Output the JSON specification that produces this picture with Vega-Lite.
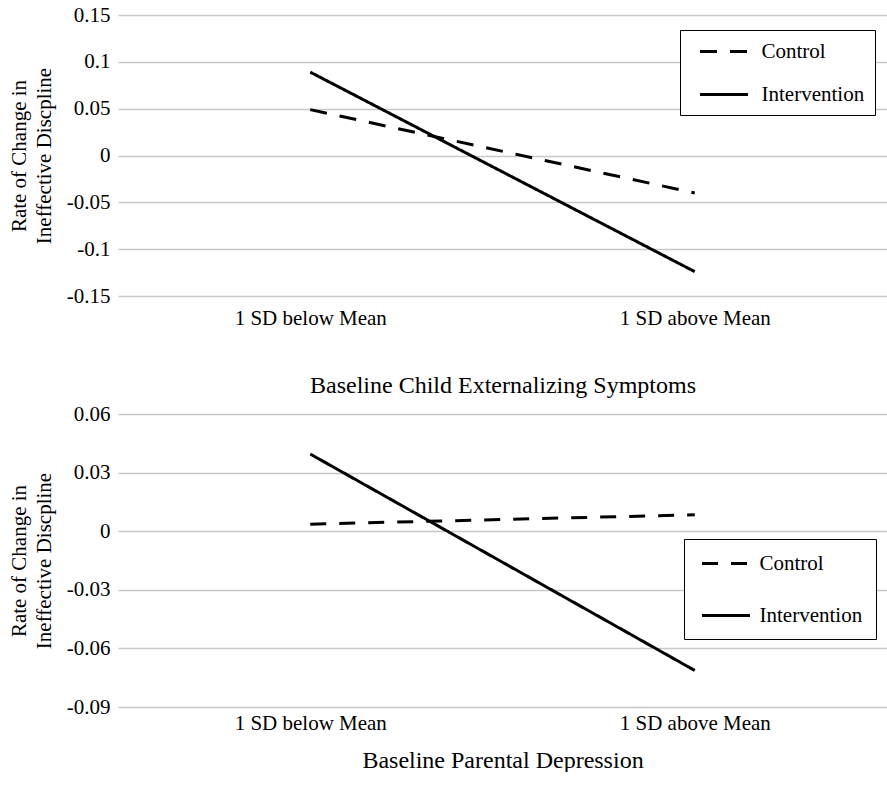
{
  "$schema": "https://vega.github.io/schema/vega-lite/v6.json",
  "padding": {"left": 8, "top": 4, "right": 0, "bottom": 0},
  "background": "white",
  "config": {
    "font": "Liberation Serif",
    "view": {"stroke": null},
    "axis": {
      "labelFont": "Liberation Serif",
      "titleFont": "Liberation Serif",
      "labelColor": "black",
      "titleColor": "black",
      "titleFontWeight": "normal",
      "domain": false,
      "ticks": false,
      "gridColor": "#c8c8c8",
      "gridWidth": 1.4
    },
    "legend": {
      "labelFont": "Liberation Serif",
      "labelColor": "black",
      "labelFontSize": 21,
      "strokeColor": "black",
      "fillColor": "white",
      "cornerRadius": 0,
      "symbolType": "M-2.4,0H2.4",
      "symbolSize": 400,
      "symbolStrokeWidth": 3,
      "symbolStrokeColor": "black"
    },
    "concat": {"spacing": 6}
  },
  "datasets": {
    "top": [
      {"level": "1 SD below Mean", "group": "Control", "value": 0.049},
      {"level": "1 SD above Mean", "group": "Control", "value": -0.04},
      {"level": "1 SD below Mean", "group": "Intervention", "value": 0.089},
      {"level": "1 SD above Mean", "group": "Intervention", "value": -0.124}
    ],
    "bottom": [
      {"level": "1 SD below Mean", "group": "Control", "value": 0.0036},
      {"level": "1 SD above Mean", "group": "Control", "value": 0.0084},
      {"level": "1 SD below Mean", "group": "Intervention", "value": 0.0395},
      {"level": "1 SD above Mean", "group": "Intervention", "value": -0.0713}
    ]
  },
  "vconcat": [
    {
      "width": 769,
      "height": 281,
      "data": {"name": "top"},
      "mark": {"type": "line", "color": "black", "strokeWidth": 3},
      "encoding": {
        "x": {
          "field": "level", "type": "nominal",
          "sort": ["1 SD below Mean", "1 SD above Mean"],
          "scale": {"type": "point", "padding": 0.5},
          "axis": {"labelAngle": 0, "labelFontSize": 21, "labelPadding": 11, "grid": false,
                   "title": "Baseline Child Externalizing Symptoms", "titleFontSize": 24, "titlePadding": 45}
        },
        "y": {
          "field": "value", "type": "quantitative",
          "scale": {"domain": [-0.15, 0.15]},
          "axis": {"values": [-0.15, -0.1, -0.05, 0, 0.05, 0.1, 0.15], "labelExpr": "'' + datum.value",
                   "labelFontSize": 21, "labelPadding": 8,
                   "title": ["Rate of Change in", "Ineffective Discpline"], "titleFontSize": 21,
                   "titleLineHeight": 25, "titlePadding": 12}
        },
        "strokeDash": {
          "field": "group", "type": "nominal",
          "scale": {"domain": ["Control", "Intervention"], "range": [[17, 13], [1, 0]]},
          "legend": {"orient": "none", "legendX": 562, "legendY": 15, "title": null,
                     "labelExpr": "datum.label + '\u00a0\u00a0'",
                     "padding": 10, "symbolOffset": 22.5, "labelOffset": 26, "rowPadding": 21}
        }
      }
    },
    {
      "width": 769,
      "height": 293,
      "data": {"name": "bottom"},
      "mark": {"type": "line", "color": "black", "strokeWidth": 3},
      "encoding": {
        "x": {
          "field": "level", "type": "nominal",
          "sort": ["1 SD below Mean", "1 SD above Mean"],
          "scale": {"type": "point", "padding": 0.5},
          "axis": {"labelAngle": 0, "labelFontSize": 21, "labelPadding": 5, "grid": false,
                   "title": "Baseline Parental Depression", "titleFontSize": 24, "titlePadding": 15}
        },
        "y": {
          "field": "value", "type": "quantitative",
          "scale": {"domain": [-0.09, 0.06]},
          "axis": {"values": [-0.09, -0.06, -0.03, 0, 0.03, 0.06], "labelExpr": "'' + datum.value",
                   "labelFontSize": 21, "labelPadding": 8,
                   "title": ["Rate of Change in", "Ineffective Discpline"], "titleFontSize": 21,
                   "titleLineHeight": 25, "titlePadding": 12}
        },
        "strokeDash": {
          "field": "group", "type": "nominal",
          "scale": {"domain": ["Control", "Intervention"], "range": [[16, 13], [1, 0]]},
          "legend": {"orient": "none", "legendX": 566, "legendY": 125, "title": null,
                     "padding": 13, "symbolOffset": 17.5, "labelOffset": 22, "rowPadding": 30}
        }
      }
    }
  ],
  "resolve": {
    "scale": {"x": "independent", "y": "independent", "strokeDash": "independent"},
    "legend": {"strokeDash": "independent"}
  }
}
